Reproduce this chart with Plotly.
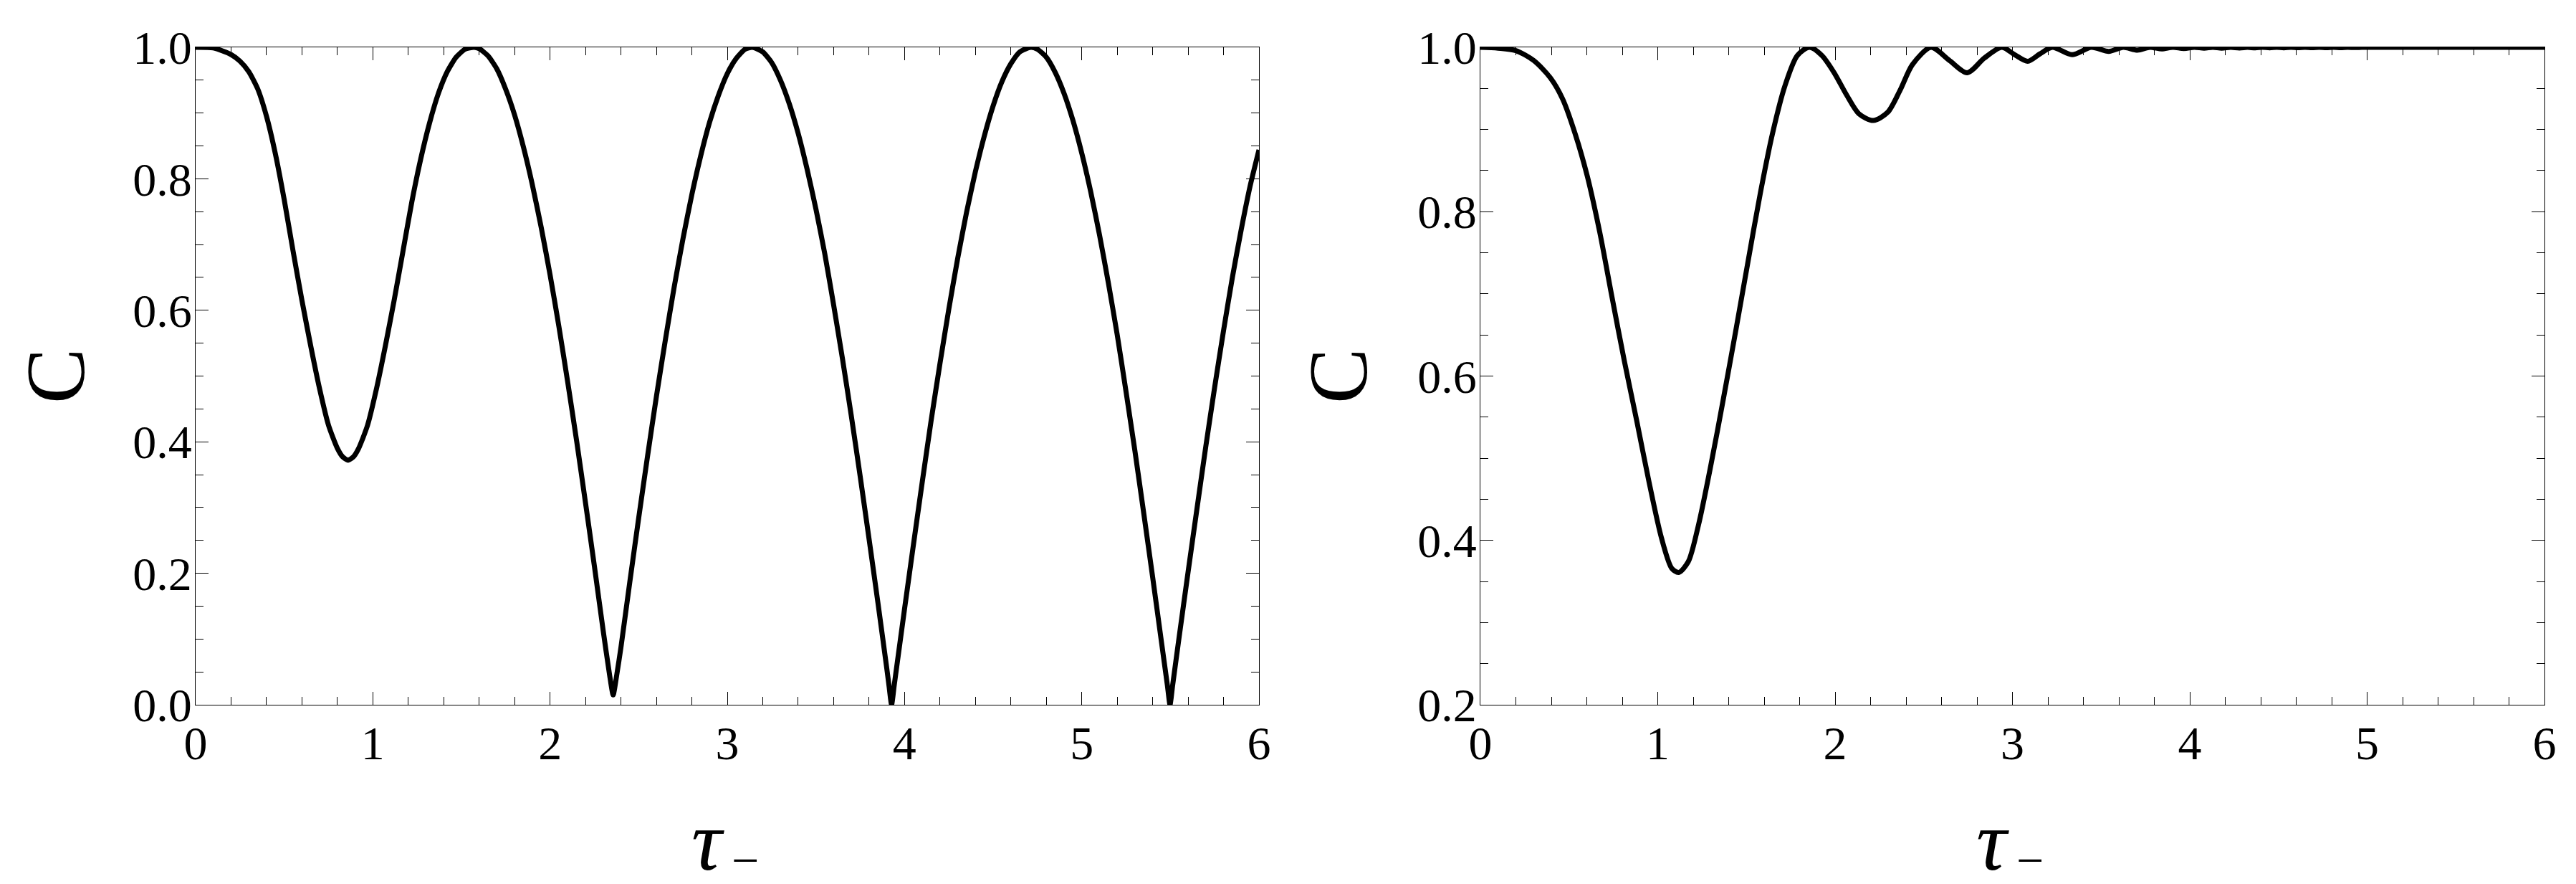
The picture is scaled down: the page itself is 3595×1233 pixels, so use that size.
import plotly.graph_objects as go

# ---------------- data ----------------
t_left = [0.0, 0.1, 0.2, 0.25, 0.3, 0.35, 0.4, 0.45, 0.5, 0.55, 0.6, 0.65, 0.7, 0.75, 0.8, 0.83, 0.86,
          0.89, 0.92, 0.97, 1.02, 1.07, 1.12, 1.17, 1.22, 1.27, 1.32, 1.37, 1.42, 1.47, 1.52, 1.5708,
          1.6, 1.65, 1.7, 1.75, 1.8, 1.85, 1.9, 1.95, 2.0, 2.05, 2.1, 2.15, 2.2, 2.25, 2.3, 2.336, 2.356,
          2.376, 2.4, 2.45, 2.5, 2.55, 2.6, 2.65, 2.7, 2.75, 2.8, 2.85, 2.9, 2.95, 3.0, 3.05, 3.1, 3.1416,
          3.2, 3.25, 3.3, 3.35, 3.4, 3.45, 3.5, 3.55, 3.6, 3.65, 3.7, 3.75, 3.8, 3.85, 3.9, 3.912, 3.927,
          3.942, 3.95, 4.0, 4.05, 4.1, 4.15, 4.2, 4.25, 4.3, 4.35, 4.4, 4.45, 4.5, 4.55, 4.6, 4.65, 4.712,
          4.75, 4.8, 4.85, 4.9, 4.95, 5.0, 5.05, 5.1, 5.15, 5.2, 5.25, 5.3, 5.35, 5.4, 5.45, 5.483, 5.498,
          5.513, 5.55, 5.6, 5.65, 5.7, 5.75, 5.8, 5.85, 5.9, 5.95, 6.0]
c_left = [1.0, 0.999, 0.989, 0.979, 0.963, 0.937, 0.895, 0.838, 0.768, 0.69, 0.615, 0.545, 0.48, 0.425, 0.39, 0.377, 0.372,
          0.377, 0.39, 0.425, 0.48, 0.545, 0.615, 0.69, 0.765, 0.83, 0.885, 0.93, 0.963, 0.985, 0.997, 1.0,
          0.998, 0.987, 0.967, 0.936, 0.897, 0.848, 0.791, 0.726, 0.654, 0.575, 0.49, 0.401, 0.307, 0.211, 0.112, 0.045, 0.015,
          0.045, 0.0875, 0.187, 0.284, 0.378, 0.469, 0.554, 0.635, 0.709, 0.776, 0.835, 0.886, 0.927, 0.96, 0.983, 0.997, 1.0,
          0.993, 0.977, 0.95, 0.914, 0.869, 0.815, 0.754, 0.686, 0.608, 0.526, 0.439, 0.347, 0.252, 0.155, 0.055, 0.03, 0.0,
          0.03, 0.046, 0.1455, 0.243, 0.339, 0.432, 0.519, 0.602, 0.679, 0.749, 0.811, 0.865, 0.911, 0.948, 0.975, 0.993, 1.0,
          0.997, 0.985, 0.962, 0.93, 0.889, 0.839, 0.781, 0.715, 0.642, 0.563, 0.476, 0.386, 0.291, 0.194, 0.095, 0.03, 0.0,
          0.03, 0.104, 0.202, 0.298, 0.393, 0.483, 0.569, 0.65, 0.723, 0.789, 0.844]

t_right = [0.0, 0.1, 0.2, 0.3, 0.394, 0.464, 0.534, 0.603, 0.673, 0.742, 0.812, 0.882, 0.951, 1.021, 1.079, 1.118,
           1.172, 1.23, 1.3, 1.369, 1.439, 1.508, 1.578, 1.647, 1.717, 1.787, 1.856, 1.926, 1.995, 2.065,
           2.135, 2.216, 2.297, 2.367, 2.436, 2.541, 2.645, 2.745, 2.842, 2.94, 3.013, 3.086, 3.155, 3.225,
           3.336, 3.445, 3.543, 3.625, 3.705, 3.775, 3.842, 3.905, 3.967, 4.025, 4.081, 4.13, 4.18, 4.23,
           4.28, 4.325, 4.37, 4.41, 4.45, 4.49, 4.53, 4.57, 4.61, 4.65, 4.69, 4.73, 4.77, 4.81, 4.85, 4.89,
           4.93, 4.97, 5.0, 5.5, 6.0]
c_right = [1.0, 0.999, 0.996, 0.984, 0.963, 0.937, 0.895, 0.843, 0.775, 0.696, 0.618, 0.545, 0.471, 0.403, 0.366, 0.361,
           0.374, 0.419, 0.492, 0.571, 0.654, 0.738, 0.822, 0.895, 0.953, 0.99, 1.0, 0.99, 0.969, 0.942,
           0.919, 0.911, 0.921, 0.948, 0.979, 1.0, 0.984, 0.969, 0.987, 1.0, 0.991, 0.983, 0.992, 1.0,
           0.991, 1.0, 0.995, 1.0, 0.9965, 1.0, 0.998, 1.0, 0.9985, 1.0, 0.999, 1.0, 0.999, 1.0,
           0.9992, 1.0, 0.9993, 1.0, 0.9994, 1.0, 0.9994, 1.0, 0.9995, 1.0, 0.9995, 1.0, 0.9996, 1.0, 0.9996, 1.0,
           0.9997, 1.0, 1.0, 1.0, 1.0]

x_ticks = [0, 1, 2, 3, 4, 5, 6]
x_ticklabels = ["0", "1", "2", "3", "4", "5", "6"]
y_ticks_left = [0.0, 0.2, 0.4, 0.6, 0.8, 1.0]
y_ticklabels_left = ["0.0", "0.2", "0.4", "0.6", "0.8", "1.0"]
y_ticks_right = [0.2, 0.4, 0.6, 0.8, 1.0]
y_ticklabels_right = ["0.2", "0.4", "0.6", "0.8", "1.0"]

y_label = "C"
x_label_main = "<i>τ</i>"
x_label_sub = "−"

# ---------------- figure ----------------
W, H = 3595, 1233
FONT = "Liberation Serif"

fig = go.Figure()
fig.add_trace(go.Scatter(x=t_left, y=c_left, mode="lines", xaxis="x", yaxis="y",
                         line=dict(color="black", width=7, shape="spline", smoothing=0.6),
                         cliponaxis=False, showlegend=False, hoverinfo="skip"))
fig.add_trace(go.Scatter(x=t_right, y=c_right, mode="lines", xaxis="x2", yaxis="y2",
                         line=dict(color="black", width=7, shape="spline", smoothing=0.8),
                         cliponaxis=False, showlegend=False, hoverinfo="skip"))

common = dict(showline=True, linecolor="black", linewidth=1.3, mirror="ticks",
              ticks="inside", ticklen=18, tickwidth=1.3, tickcolor="black",
              showgrid=False, zeroline=False, automargin=False,
              tickfont=dict(family=FONT, size=66, color="black"))
minor_x = dict(dtick=0.2, tick0=0, ticks="inside", ticklen=11, tickwidth=1.3, tickcolor="black")
minor_y = dict(dtick=0.05, tick0=0, ticks="inside", ticklen=11, tickwidth=1.3, tickcolor="black")

ydom = [1 - 975 / H, 1 - 58 / H]
fig.update_layout(
    width=W, height=H,
    margin=dict(l=0, r=0, t=0, b=0, pad=0),
    plot_bgcolor="white", paper_bgcolor="white",
    xaxis=dict(domain=[265 / W, 1749 / W], range=[0, 6], anchor="y",
               tickvals=x_ticks, ticktext=x_ticklabels, ticklabelstandoff=-4,
               minor=minor_x, **common),
    yaxis=dict(domain=ydom, range=[0, 1], anchor="x",
               tickvals=y_ticks_left, ticktext=y_ticklabels_left, ticklabelstandoff=-9,
               minor=minor_y, **common),
    xaxis2=dict(domain=[2058 / W, 3543 / W], range=[0, 6], anchor="y2",
                tickvals=x_ticks, ticktext=x_ticklabels, ticklabelstandoff=-4,
                minor=minor_x, **common),
    yaxis2=dict(domain=ydom, range=[0.2, 1], anchor="x2",
                tickvals=y_ticks_right, ticktext=y_ticklabels_right, ticklabelstandoff=-9,
                minor=minor_y, **common),
)

for cx in (70, 1860):
    fig.add_annotation(x=cx / W, y=1 - 517 / H, xref="paper", yref="paper", text=y_label,
                       textangle=-90, showarrow=False,
                       font=dict(family=FONT, size=116, color="black"),
                       xanchor="center", yanchor="middle")
for cx in (980, 2773):
    fig.add_annotation(x=cx / W, y=0, xref="paper", yref="paper", text=x_label_main,
                       showarrow=False, font=dict(family=FONT, size=118, color="black"),
                       xanchor="center", yanchor="bottom")
    fig.add_annotation(x=(cx + 52) / W, y=1 - 1232 / H, xref="paper", yref="paper", text=x_label_sub,
                       showarrow=False, font=dict(family=FONT, size=68, color="black"),
                       xanchor="center", yanchor="bottom")

fig.write_html("out.html")
